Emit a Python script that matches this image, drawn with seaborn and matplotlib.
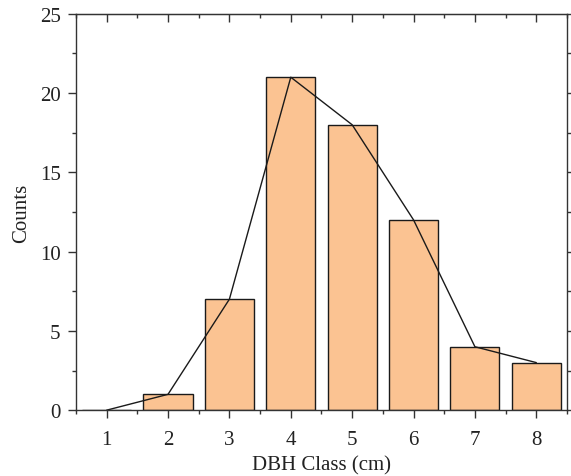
import seaborn as sns
import pandas as pd
import matplotlib
matplotlib.use("Agg")
import matplotlib.pyplot as plt
from matplotlib.ticker import MultipleLocator

dbh_class = [1, 2, 3, 4, 5, 6, 7, 8]
counts = [0, 1, 7, 21, 18, 12, 4, 3]

df = pd.DataFrame({"DBH Class (cm)": dbh_class, "Counts": counts})

sns.set_style("ticks")
plt.rcParams["font.family"] = ["Liberation Serif", "DejaVu Serif"]

fig = plt.figure(figsize=(5.71, 4.77), dpi=100)
ax = fig.add_axes([0.133, 0.138, 0.86, 0.831])

sns.barplot(data=df, x="DBH Class (cm)", y="Counts", native_scale=True,
            width=0.8, color="#fbc392", saturation=1, edgecolor="#1a1a1a",
            linewidth=1.0, ax=ax)
sns.lineplot(data=df, x="DBH Class (cm)", y="Counts", color="#1a1a1a",
             linewidth=1.0, ax=ax)

ax.set_xlim(0.5, 8.5)
ax.set_ylim(0, 25)
ax.xaxis.set_major_locator(MultipleLocator(1))
ax.xaxis.set_minor_locator(MultipleLocator(0.5))
ax.yaxis.set_major_locator(MultipleLocator(5))
ax.yaxis.set_minor_locator(MultipleLocator(2.5))

for s in ax.spines.values():
    s.set_visible(True)
    s.set_color("#333333")
    s.set_linewidth(1.0)

ax.tick_params(which="both", direction="out", color="#333333", width=1.0,
               labelsize=15, colors="#222222", pad=5)
ax.tick_params(axis="x", pad=8)
ax.tick_params(which="major", length=6)
ax.tick_params(which="minor", length=3)
ax.tick_params(axis="y", which="both", right=True)

# top ticks point inward
top = ax.secondary_xaxis("top")
top.xaxis.set_major_locator(MultipleLocator(1))
top.xaxis.set_minor_locator(MultipleLocator(0.5))
top.tick_params(which="both", direction="in", color="#333333", width=1.0,
                labeltop=False)
top.tick_params(which="major", length=6)
top.tick_params(which="minor", length=3)
top.spines["top"].set_color("#333333")

ax.set_xlabel("DBH Class (cm)", fontsize=15, color="#222222", labelpad=5)
ax.set_ylabel("Counts", fontsize=15, color="#222222", labelpad=6)

fig.savefig("out.png", dpi=100)
